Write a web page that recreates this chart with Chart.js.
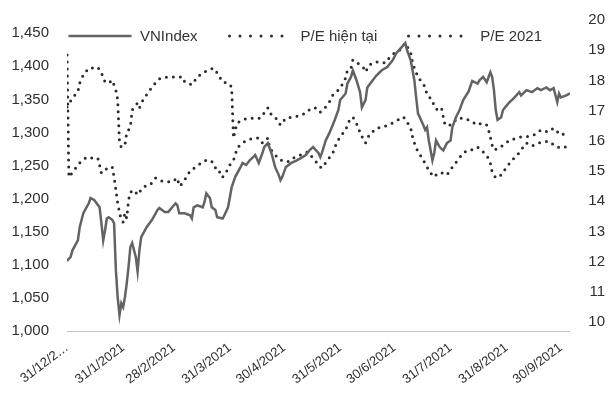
<!DOCTYPE html>
<html>
<head>
<meta charset="utf-8">
<script src="https://cdn.jsdelivr.net/npm/chart.js@4.4.1/dist/chart.umd.min.js"></script>
<style>
    body { margin: 0; background: #ffffff; }
    #wrap { position: relative; width: 613px; height: 400px; }
    #legend {
        position: absolute; top: 28px; left: 67px;
        display: flex; white-space: nowrap;
        font: 15px "Liberation Sans", Arial, sans-serif; line-height: 15px; color: #333333;
    }
    #legend .item { display: flex; align-items: center; margin-right: 30px; }
    #legend svg { margin-right: 7px; }
</style>
</head>
<body>
<div id="wrap">
    <canvas id="peChart" width="613" height="400"></canvas>
    <div id="legend"></div>
</div>
<script>
// Days counted from 31/12/2020 (date axis)
const vnDays = [
    0, 2, 3, 6, 7, 9, 12, 13, 15, 18,
    19, 20, 21, 22, 23, 25, 26, 27, 28, 29,
    30, 31, 32, 33, 34, 35, 36, 38, 39, 40,
    41, 44, 47, 50, 51, 54, 56, 60, 61, 62,
    65, 68, 69, 70, 72, 75, 76, 77, 79, 80,
    82, 83, 86, 87, 89, 91, 93, 96, 97, 99,
    101, 103, 104, 106, 108, 109, 111, 113, 115, 117,
    118, 119, 121, 124, 127, 129, 132, 134, 136, 139,
    140, 141, 143, 145, 148, 150, 151, 154, 155, 157,
    158, 160, 162, 163, 165, 166, 169, 171, 174, 177,
    180, 182, 185, 187, 188, 190, 192, 193, 194, 197,
    198, 199, 200, 202, 203, 204, 206, 208, 210, 212,
    213, 215, 217, 219, 222, 224, 227, 228, 230, 232,
    234, 235, 236, 237, 238, 240, 241, 244, 247, 250,
    251, 254, 257, 260, 262, 265, 267, 269, 271, 272,
    273, 276, 278
];
const vnIndex = [
    1106, 1112, 1122, 1137, 1157, 1178, 1193, 1201, 1198, 1187,
    1163, 1137, 1152, 1170, 1172, 1168, 1163, 1092, 1051, 1024,
    1042, 1036, 1051, 1072, 1097, 1127, 1133, 1112, 1090, 1122,
    1142, 1157, 1168, 1183, 1186, 1180, 1180, 1193, 1190, 1178,
    1178, 1175, 1170, 1187, 1190, 1187, 1195, 1208, 1201, 1187,
    1183, 1172, 1170, 1175, 1187, 1217, 1233, 1248, 1254, 1251,
    1258, 1263, 1266, 1254, 1269, 1278, 1284, 1269, 1248, 1236,
    1228, 1233, 1248, 1254, 1258, 1261, 1266, 1273, 1278, 1269,
    1263, 1270, 1288, 1299, 1319, 1334, 1349, 1359, 1374, 1384,
    1394, 1379, 1361, 1338, 1349, 1368, 1379, 1386, 1394, 1399,
    1409, 1420, 1429, 1435, 1424, 1409, 1379, 1353, 1329, 1311,
    1304, 1308, 1288, 1258, 1269, 1288, 1278, 1273, 1284, 1288,
    1308, 1323, 1334, 1349, 1362, 1378, 1374, 1379, 1384, 1376,
    1391, 1384, 1364, 1334, 1319, 1323, 1334, 1344, 1352, 1361,
    1356, 1364, 1361, 1367, 1364, 1368, 1364, 1367, 1346, 1359,
    1353, 1356, 1359
];

const peNowDays = [
    0, 3, 6, 7, 9, 12, 14, 17, 19, 21,
    23, 25, 27, 28, 29, 30, 32, 33, 35, 36,
    39, 40, 42, 45, 48, 50, 52, 56, 60, 64,
    65, 69, 72, 75, 78, 81, 83, 86, 89, 91,
    92, 93, 94, 97, 100, 103, 107, 109, 111, 113,
    115, 118, 121, 126, 129, 132, 135, 138, 140, 143,
    145, 147, 150, 152, 154, 155, 157, 158, 160, 162,
    164, 165, 167, 170, 173, 176, 178, 181, 184, 187,
    190, 191, 192, 194, 196, 198, 199, 202, 203, 205,
    207, 208, 209, 212, 216, 219, 222, 227, 229, 232,
    233, 234, 235, 236, 239, 241, 245, 251, 254, 258,
    262, 266, 269, 273, 277
];
const peNow = [
    17.12, 17.42, 17.62, 17.91, 18.18, 18.41, 18.41, 18.44, 18.25, 17.95,
    17.91, 18.01, 17.68, 17.35, 15.93, 15.79, 15.86, 16.26, 16.46, 17.02,
    17.25, 17.09, 17.35, 17.62, 17.85, 18.01, 18.08, 18.11, 18.11, 18.11,
    17.95, 17.85, 18.11, 18.25, 18.34, 18.41, 18.25, 17.95, 17.91, 17.78,
    16.09, 16.36, 16.59, 16.69, 16.75, 16.75, 16.75, 16.92, 17.09, 16.85,
    16.79, 16.52, 16.75, 16.79, 16.85, 16.92, 17.09, 17.09, 16.95, 17.12,
    17.28, 17.52, 17.68, 17.85, 18.08, 18.34, 18.41, 18.68, 18.61, 18.51,
    18.41, 18.28, 18.51, 18.61, 18.61, 18.58, 18.74, 18.91, 19.01, 19.24,
    18.91, 18.58, 18.41, 18.11, 17.95, 17.78, 17.52, 17.35, 17.12, 17.02,
    17.09, 16.79, 16.52, 16.52, 16.75, 16.75, 16.69, 16.52, 16.59, 16.52,
    16.36, 16.13, 15.86, 15.70, 15.76, 15.86, 16.03, 16.13, 16.13, 16.19,
    16.36, 16.29, 16.42, 16.19, 16.26
];

const pe21Days = [
    0, 1, 4, 6, 8, 11, 14, 17, 18, 19,
    21, 23, 25, 26, 27, 28, 29, 30, 31, 32,
    33, 34, 35, 37, 39, 40, 42, 46, 49, 51,
    54, 58, 61, 62, 64, 66, 68, 71, 75, 77,
    79, 81, 83, 85, 86, 88, 90, 92, 93, 94,
    97, 100, 103, 106, 108, 109, 111, 112, 115, 118,
    122, 125, 129, 133, 137, 140, 141, 144, 147, 149,
    151, 154, 156, 158, 161, 162, 164, 165, 167, 171,
    175, 177, 180, 183, 186, 188, 190, 191, 192, 194,
    196, 197, 199, 201, 203, 205, 208, 210, 213, 216,
    219, 222, 224, 227, 230, 232, 234, 235, 237, 240,
    243, 246, 249, 251, 254, 257, 261, 266, 271, 274,
    278
];
const pe21 = [
    18.84, 14.80, 15.03, 15.20, 15.33, 15.46, 15.43, 15.43, 15.20, 14.93,
    15.03, 15.13, 15.13, 14.80, 14.37, 13.94, 13.64, 13.38, 13.31, 13.61,
    13.44, 14.04, 14.30, 14.37, 14.21, 14.30, 14.47, 14.54, 14.77, 14.70,
    14.64, 14.64, 14.77, 14.50, 14.60, 14.80, 15.00, 15.13, 15.30, 15.36,
    15.36, 15.26, 14.97, 14.97, 14.80, 14.97, 15.20, 15.36, 15.53, 15.76,
    15.93, 16.03, 16.09, 16.09, 15.93, 15.96, 16.09, 15.76, 15.53, 15.36,
    15.30, 15.43, 15.53, 15.63, 15.36, 15.13, 15.10, 15.36, 15.60, 15.93,
    16.13, 16.36, 16.66, 16.79, 16.46, 16.26, 16.03, 15.93, 16.19, 16.42,
    16.46, 16.52, 16.59, 16.69, 16.79, 16.62, 16.42, 16.13, 15.93, 15.63,
    15.46, 15.36, 15.13, 14.93, 14.80, 14.93, 14.93, 14.87, 15.13, 15.36,
    15.60, 15.70, 15.70, 15.79, 15.63, 15.53, 15.26, 14.97, 14.77, 14.87,
    15.13, 15.36, 15.53, 15.70, 15.93, 15.83, 15.93, 15.99, 15.79, 15.76,
    15.86
];

// Month-end ticks on the date axis
const tickDays = [0, 31, 59, 90, 120, 151, 181, 212, 243, 273];
const tickLabels = ['31/12/2…', '31/1/2021', '28/2/2021', '31/3/2021', '30/4/2021',
    '31/5/2021', '30/6/2021', '31/7/2021', '31/8/2021', '30/9/2021'];

function toPoints(days, values) {
    return days.map((d, i) => ({ x: d, y: values[i] }));
}

Chart.defaults.font.family = '"Liberation Sans", Arial, sans-serif';
Chart.defaults.color = '#333333';

const datasets = [{
    label: 'VNIndex',
    data: toPoints(vnDays, vnIndex),
    yAxisID: 'y',
    borderColor: '#636363',
    borderWidth: 2.5,
    legendDash: []
}, {
    label: 'P/E hiện tại',
    data: toPoints(peNowDays, peNow),
    yAxisID: 'yPE',
    borderColor: '#2b2b2b',
    borderWidth: 3,
    borderDash: [0, 7],
    borderCapStyle: 'round',
    legendDash: [0, 10.5]
}, {
    label: 'P/E 2021',
    data: toPoints(pe21Days, pe21),
    yAxisID: 'yPE',
    borderColor: '#2b2b2b',
    borderWidth: 3,
    borderDash: [0, 7],
    borderCapStyle: 'round',
    legendDash: [0, 10.5]
}];

const chart = new Chart(document.getElementById('peChart'), {
    type: 'line',
    data: { datasets: datasets },
    options: {
        responsive: false,
        devicePixelRatio: 1,
        animation: false,
        layout: { padding: { left: 11.5, right: 8, top: 20, bottom: 3.7 } },
        elements: { point: { radius: 0 }, line: { tension: 0 } },
        plugins: { legend: { display: false }, tooltip: { enabled: false } },
        scales: {
            x: {
                type: 'linear',
                min: 0,
                max: 278,
                grid: { display: false, drawTicks: false },
                border: { display: true, color: '#c2c2c2', dash: [2, 2] },
                afterBuildTicks: axis => {
                    axis.ticks = tickDays.map(value => ({ value }));
                },
                ticks: {
                    autoSkip: false,
                    minRotation: 37,
                    maxRotation: 37,
                    padding: 9,
                    color: '#2f2f2f',
                    font: { size: 13 },
                    callback: (value, index) => tickLabels[index]
                }
            },
            y: {
                position: 'left',
                min: 1000,
                max: 1470,
                grid: { display: false, drawTicks: false },
                border: { display: false },
                ticks: {
                    stepSize: 50,
                    includeBounds: false,
                    padding: 9,
                    crossAlign: 'far',
                    color: '#2f2f2f',
                    font: { size: 15 },
                    callback: value => value.toLocaleString('en-US')
                }
            },
            yPE: {
                position: 'right',
                min: 9.7,
                max: 20,
                grid: { display: false, drawTicks: false },
                border: { display: false },
                ticks: {
                    stepSize: 1,
                    includeBounds: false,
                    padding: 9.2,
                    crossAlign: 'far',
                    color: '#2f2f2f',
                    font: { size: 15 }
                }
            }
        }
    }
});

// Legend inside the plot, built from the dataset styles
const legendBox = document.getElementById('legend');
legendBox.style.left = chart.chartArea.left + 'px';
datasets.forEach(ds => {
    const item = document.createElement('span');
    item.className = 'item';
    item.innerHTML =
        '<svg width="66" height="10"><line x1="1.5" y1="5" x2="64.5" y2="5"' +
        ' stroke="' + ds.borderColor + '" stroke-width="' + ds.borderWidth + '"' +
        ' stroke-linecap="' + (ds.borderCapStyle || 'butt') + '"' +
        ' stroke-dasharray="' + (ds.legendDash.length ? ds.legendDash.join(' ') : 'none') + '"/></svg>';
    const text = document.createElement('span');
    text.textContent = ds.label;
    item.appendChild(text);
    legendBox.appendChild(item);
});
</script>
</body>
</html>
